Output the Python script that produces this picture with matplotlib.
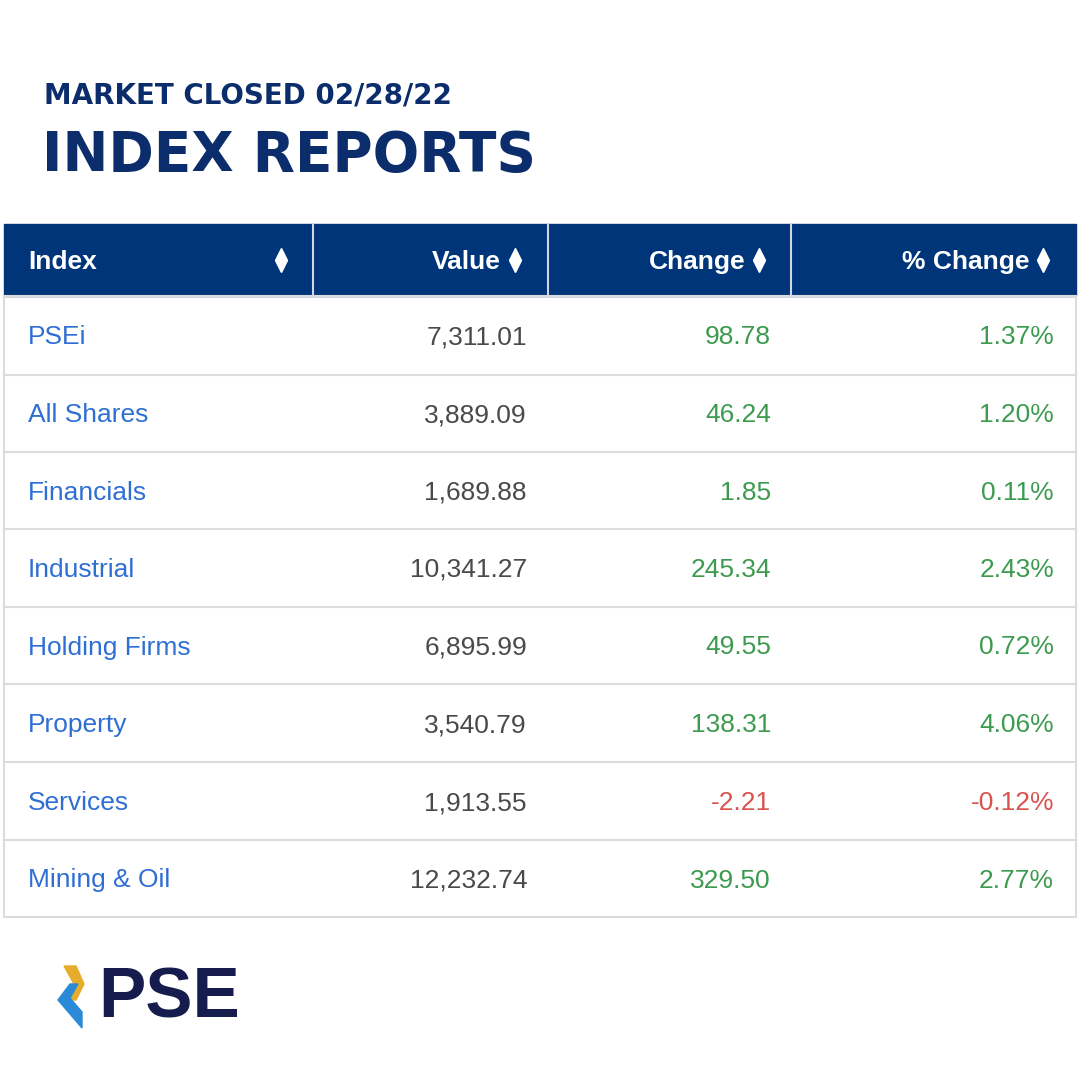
import matplotlib.pyplot as plt
from matplotlib.patches import Rectangle, Polygon

indexes = ["PSEi", "All Shares", "Financials", "Industrial", "Holding Firms", "Property", "Services", "Mining & Oil"]
values = ["7,311.01", "3,889.09", "1,689.88", "10,341.27", "6,895.99", "3,540.79", "1,913.55", "12,232.74"]
changes = ["98.78", "46.24", "1.85", "245.34", "49.55", "138.31", "-2.21", "329.50"]
pct = ["1.37%", "1.20%", "0.11%", "2.43%", "0.72%", "4.06%", "-0.12%", "2.77%"]
headers = ["Index", "Value", "Change", "% Change"]

navy = "#0b2d6b"
hdr = "#00357a"
blue = "#2f6fd3"
grey = "#4a4a4a"
green = "#3d9b4f"
red = "#d9534f"
line = "#dcdcdc"
tf = "Liberation Sans"

fig = plt.figure(figsize=(10.8, 10.8), dpi=100)
ax = fig.add_axes([0, 0, 1, 1])
ax.set_xlim(0, 1080)
ax.set_ylim(1080, 0)
ax.axis("off")

ax.text(44, 96, "MARKET CLOSED 02/28/22", fontsize=20, fontweight="bold", color=navy,
        family="DejaVu Sans", va="center", ha="left")
ax.text(42, 156, "INDEX REPORTS", fontsize=39.5, fontweight="bold", color=navy,
        family="DejaVu Sans", va="center", ha="left")

left, right = 4, 1076
cols = [left, 313, 548, 791, right]
top, hbot = 224, 296
rows = [296, 375, 452, 529, 607, 684, 762, 840, 917]

ax.add_patch(Rectangle((left, top), right - left, hbot - top, color=hdr, zorder=1))
for c in cols[1:-1]:
    ax.plot([c, c], [top, hbot], color="#d0d6e2", lw=1.5, zorder=2)
ax.add_patch(Rectangle((left, hbot), right - left, rows[-1] - hbot, fill=False, ec=line, lw=1.5))
for y in rows[1:-1]:
    ax.plot([left, right], [y, y], color=line, lw=1.5)

hy = (top + hbot) / 2
arrow_x = [281, 515, 759, 1043]
for i, h in enumerate(headers):
    if i == 0:
        ax.text(28, hy + 2, h, color="white", fontsize=19, fontweight="bold", ha="left", va="center", family=tf)
    else:
        ax.text(arrow_x[i] - 14, hy + 2, h, color="white", fontsize=19, fontweight="bold", ha="right",
                va="center", family=tf)
    ax.plot(arrow_x[i], hy - 6, marker="^", color="white", ms=9, zorder=3)
    ax.plot(arrow_x[i], hy + 6, marker="v", color="white", ms=9, zorder=3)

for r in range(len(indexes)):
    y = (rows[r] + rows[r + 1]) / 2 + 2
    col = red if changes[r].startswith("-") else green
    ax.text(28, y, indexes[r], color=blue, fontsize=19, ha="left", va="center", family=tf)
    ax.text(527, y, values[r], color=grey, fontsize=19, ha="right", va="center", family=tf)
    ax.text(771, y, changes[r], color=col, fontsize=19, ha="right", va="center", family=tf)
    ax.text(1054, y, pct[r], color=col, fontsize=19, ha="right", va="center", family=tf)

# logo
ax.add_patch(Polygon([[64, 966], [76, 966], [84, 984], [76, 1000], [68, 1000], [74, 984]], color="#e6ad2c"))
ax.add_patch(Polygon([[70, 984], [78, 984], [70, 998], [82, 1012], [82, 1028], [58, 1000]], color="#2a8ad8"))
ax.text(98, 999, "PSE", fontsize=51, fontweight="bold", color="#161c4d", ha="left", va="center",
        family="Liberation Sans")

fig.savefig("out.png", dpi=100, facecolor="white")
